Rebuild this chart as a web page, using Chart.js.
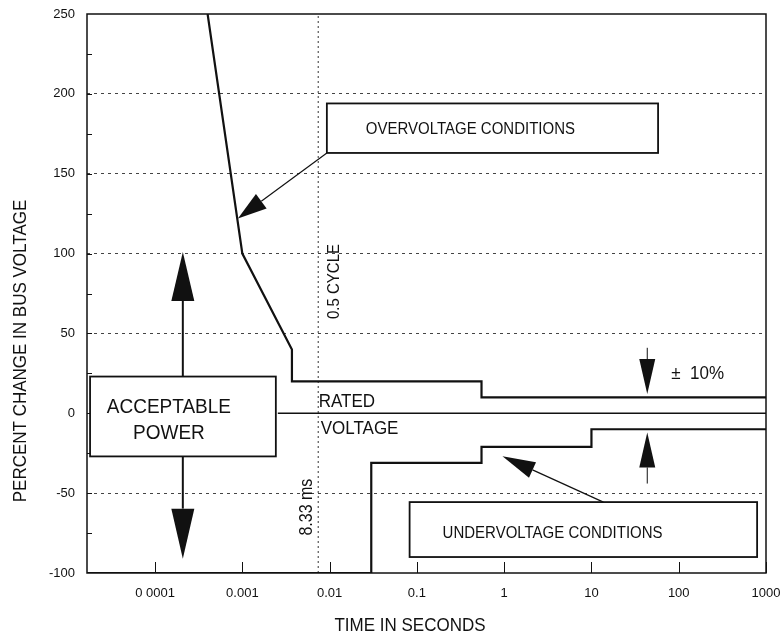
<!DOCTYPE html>
<html>
<head>
<meta charset="utf-8">
<script src="https://cdn.jsdelivr.net/npm/chart.js@4/dist/chart.umd.min.js"></script>
<style>
  html, body { margin: 0; padding: 0; background: #fff; }
  #wrap { width: 783px; height: 637px; position: relative; }
</style>
</head>
<body>
<div id="wrap"><canvas id="c" width="783" height="637"></canvas></div>
<script>
// ---------------- data ----------------
const X_MIN = 1.66e-5;
const X_MAX = 1000;
const xTickValues = [0.0001, 0.001, 0.01, 0.1, 1, 10, 100, 1000];
const xTickLabels = ['0 0001', '0.001', '0.01', '0.1', '1', '10', '100', '1000'];
const yTickLabels = ['-100', '-50', '0', '50', '100', '150', '200', '250'];

// overvoltage limit curve (time in seconds, percent change)
const overTime = [0.0004, 0.001, 0.0037, 0.0037, 0.55, 0.55, 1000];
const overPct  = [250, 100, 40, 20, 20, 10, 10];

// undervoltage limit curve
const underTime = [X_MIN, 0.03, 0.03, 0.55, 0.55, 10, 10, 1000];
const underPct  = [-100, -100, -31, -31, -21, -21, -10, -10];

// rated voltage line
const ratedTime = [0.00255, 1000];
const ratedPct  = [0, 0];

// half-cycle (8.33 ms) marker line
const halfCycleTime = [0.0074, 0.0074];
const halfCyclePct  = [-100, 250];

const FAM = '"Liberation Sans", Arial, Helvetica, sans-serif';
const INK = '#111';

function pts(xs, ys) { return xs.map((x, i) => ({ x: x, y: ys[i] })); }
function noPad(s) { s.paddingLeft = 0; s.paddingRight = 0; s.paddingTop = 0; s.paddingBottom = 0; }

// ---------------- annotation plugin ----------------
const annot = {
  id: 'annot',
  afterDraw(chart) {
    const ctx = chart.ctx;
    const xs = chart.scales.x, ys = chart.scales.y;
    const X = v => xs.getPixelForValue(v);
    const Y = v => ys.getPixelForValue(v);
    const ca = chart.chartArea;

    function text(str, x, y, size, align, rot, stretch) {
      ctx.save();
      ctx.translate(x, y);
      if (rot) ctx.rotate(rot);
      ctx.scale(1, stretch || 1.1);
      ctx.font = size + 'px ' + FAM;
      ctx.fillStyle = INK;
      ctx.textAlign = align || 'left';
      ctx.textBaseline = 'middle';
      ctx.fillText(str, 0, 0);
      ctx.restore();
    }
    function box(x0, x1, yt, yb) {
      const l = X(x0), r = X(x1), t = Y(yt), b = Y(yb);
      ctx.save();
      ctx.fillStyle = '#fff';
      ctx.fillRect(l, t, r - l, b - t);
      ctx.strokeStyle = INK;
      ctx.lineWidth = 1.8;
      ctx.strokeRect(l, t, r - l, b - t);
      ctx.restore();
    }
    function arrow(x1, y1, x2, y2, len, half, lw) {
      const dx = x2 - x1, dy = y2 - y1;
      const d = Math.hypot(dx, dy);
      const ux = dx / d, uy = dy / d;
      const bx = x2 - ux * len, by = y2 - uy * len;
      ctx.save();
      ctx.strokeStyle = INK;
      ctx.fillStyle = INK;
      ctx.lineWidth = lw;
      ctx.beginPath();
      ctx.moveTo(x1, y1);
      ctx.lineTo(bx, by);
      ctx.stroke();
      ctx.beginPath();
      ctx.moveTo(x2, y2);
      ctx.lineTo(bx - uy * half, by + ux * half);
      ctx.lineTo(bx + uy * half, by - ux * half);
      ctx.closePath();
      ctx.fill();
      ctx.restore();
    }

    // frame
    ctx.save();
    ctx.strokeStyle = INK;
    ctx.lineWidth = 1.5;
    ctx.strokeRect(ca.left, ca.top, ca.right - ca.left, ca.bottom - ca.top);
    // inward tick marks on x axis
    ctx.lineWidth = 1;
    xTickValues.forEach(v => {
      const px = Math.round(X(v)) + 0.5;
      ctx.beginPath();
      ctx.moveTo(px, ca.bottom);
      ctx.lineTo(px, ca.bottom - 11);
      ctx.stroke();
    });
    // inward minor tick marks on y axis
    for (let v = ys.min + 25; v < ys.max; v += 25) {
      const py = Math.round(Y(v)) + 0.5;
      ctx.beginPath();
      ctx.moveTo(ca.left, py);
      ctx.lineTo(ca.left + 5, py);
      ctx.stroke();
    }
    ctx.restore();

    // overvoltage box + arrow
    box(0.0093, 58, 194, 163);
    text('OVERVOLTAGE CONDITIONS', X(0.026), Y(178), 15, 'left');
    arrow(X(0.0093), Y(163), X(0.00089), Y(122), 29, 9, 1.2);

    // acceptable power box + arrows
    box(1.8e-5, 0.00242, 23, -27);
    text('ACCEPTABLE', X(1.44e-4), Y(3.75), 19, 'center');
    text('POWER', X(1.44e-4), Y(-12.5), 19, 'center');
    arrow(X(2.08e-4), Y(23), X(2.08e-4), Y(101), 49, 11.5, 2);
    arrow(X(2.08e-4), Y(-27), X(2.08e-4), Y(-91), 50, 11.5, 2);

    // rated voltage text
    text('RATED', X(0.0075), Y(7), 17, 'left');
    text('VOLTAGE', X(0.0079), Y(-10), 17, 'left');

    // rotated labels by the half-cycle line
    text('0.5 CYCLE', X(0.0114), Y(82.5), 15, 'center', -Math.PI / 2);
    text('8.33 ms', X(0.00547), Y(-58.75), 16, 'center', -Math.PI / 2);

    // +/- 10 % tolerance arrows
    arrow(X(43.6), Y(41), X(43.6), Y(12), 35, 8, 1);
    arrow(X(43.6), Y(-44), X(43.6), Y(-12), 35, 8, 1);
    text('\u00B1  10%', X(82), Y(25), 17, 'left');

    // undervoltage box + arrow
    box(0.0825, 791, -55.6, -90);
    text('UNDERVOLTAGE CONDITIONS', X(0.197), Y(-75), 15, 'left');
    arrow(X(13.7), Y(-55.6), X(0.956), Y(-26.9), 33, 8.5, 1.2);

    // axis titles
    text('TIME IN SECONDS', 410, 626, 17, 'center');
    text('PERCENT CHANGE IN BUS VOLTAGE', 21, 351, 17, 'center', -Math.PI / 2);
  }
};

// ---------------- chart ----------------
new Chart(document.getElementById('c'), {
  type: 'line',
  data: {
    datasets: [
      { label: 'Overvoltage', data: pts(overTime, overPct), borderColor: INK, borderWidth: 2.2, pointRadius: 0, tension: 0, fill: false },
      { label: 'Undervoltage', data: pts(underTime, underPct), borderColor: INK, borderWidth: 2.2, pointRadius: 0, tension: 0, fill: false },
      { label: 'Rated voltage', data: pts(ratedTime, ratedPct), borderColor: INK, borderWidth: 1.4, pointRadius: 0, tension: 0, fill: false },
      { label: '8.33 ms', data: pts(halfCycleTime, halfCyclePct), borderColor: '#333', borderWidth: 1, borderDash: [2, 3], pointRadius: 0, tension: 0, fill: false }
    ]
  },
  options: {
    responsive: false,
    animation: false,
    devicePixelRatio: 1,
    layout: { padding: { top: 14, right: 17, left: 0, bottom: 0 } },
    plugins: { legend: { display: false }, tooltip: { enabled: false } },
    scales: {
      x: {
        type: 'logarithmic',
        min: X_MIN,
        max: X_MAX,
        afterBuildTicks: s => { s.ticks = xTickValues.map(v => ({ value: v })); },
        afterFit: s => { s.height = 64; noPad(s); },
        ticks: {
          autoSkip: false, maxRotation: 0, minRotation: 0, padding: 13,
          color: INK, font: { size: 13, family: FAM },
          callback: (v, i) => xTickLabels[i]
        },
        grid: { display: false, drawTicks: false },
        border: { display: false }
      },
      y: {
        min: -100,
        max: 250,
        afterFit: s => { s.width = 87; noPad(s); },
        ticks: {
          stepSize: 50, padding: 12,
          color: INK, font: { size: 13, family: FAM },
          callback: (v, i) => yTickLabels[i]
        },
        grid: {
          drawTicks: false, lineWidth: 1,
          color: c => (c.tick && (c.tick.value === 0 || c.tick.value === 250 || c.tick.value === -100)) ? 'rgba(0,0,0,0)' : '#444'
        },
        border: { display: false, dash: [3, 4] }
      }
    }
  },
  plugins: [annot]
});
</script>
</body>
</html>
